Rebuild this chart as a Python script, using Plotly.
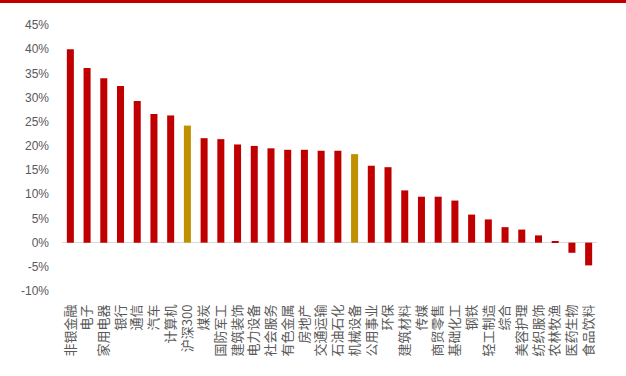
import plotly.graph_objects as go

# 行业涨跌幅（%）
industries = [
    "非银金融", "电子", "家用电器", "银行", "通信", "汽车", "计算机", "沪深300",
    "煤炭", "国防军工", "建筑装饰", "电力设备", "社会服务", "有色金属", "房地产", "交通运输",
    "石油石化", "机械设备", "公用事业", "环保", "建筑材料", "传媒", "商贸零售", "基础化工",
    "钢铁", "轻工制造", "综合", "美容护理", "纺织服饰", "农林牧渔", "医药生物", "食品饮料",
]
returns_pct = [
    40.0, 36.1, 34.0, 32.4, 29.3, 26.6, 26.3, 24.2,
    21.6, 21.4, 20.3, 20.0, 19.5, 19.2, 19.2, 19.0,
    19.0, 18.3, 15.9, 15.6, 10.8, 9.5, 9.5, 8.7,
    5.8, 4.8, 3.2, 2.7, 1.5, 0.2, -2.1, -4.7,
]
highlighted = ["沪深300", "机械设备"]

y_ticks = list(range(-10, 50, 5))
y_tick_text = [f"{v}%" for v in y_ticks]

RED = "#C00000"
GOLD = "#BF9000"
colors = [GOLD if name in highlighted else RED for name in industries]

fig = go.Figure(
    go.Bar(
        x=industries,
        y=returns_pct,
        marker=dict(color=colors, line=dict(width=0)),
        width=0.42,
    )
)

fig.update_layout(
    width=626,
    height=376,
    margin=dict(l=62, r=29, t=25, b=85),
    paper_bgcolor="white",
    plot_bgcolor="white",
    showlegend=False,
    xaxis=dict(
        range=[-0.5, len(industries) - 0.5],
        tickangle=-90,
        showgrid=False,
        showline=False,
        ticks="",
        ticklabelstandoff=10,
        tickfont=dict(family="Noto Sans CJK SC", size=13, color="#595959"),
    ),
    yaxis=dict(
        range=[-10, 45],
        tickvals=y_ticks,
        ticktext=y_tick_text,
        showgrid=False,
        showline=False,
        ticks="",
        zeroline=True,
        zerolinecolor="#D9D9D9",
        zerolinewidth=1,
        ticklabelstandoff=12,
        tickfont=dict(family="Liberation Sans", size=12, color="#595959"),
    ),
    shapes=[
        dict(
            type="line",
            xref="paper",
            yref="paper",
            x0=-62 / 535,
            x1=1 + 29 / 535,
            y0=1 + 23.5 / 266,
            y1=1 + 23.5 / 266,
            line=dict(color=RED, width=3),
        )
    ],
)

fig.write_html("out.html")
